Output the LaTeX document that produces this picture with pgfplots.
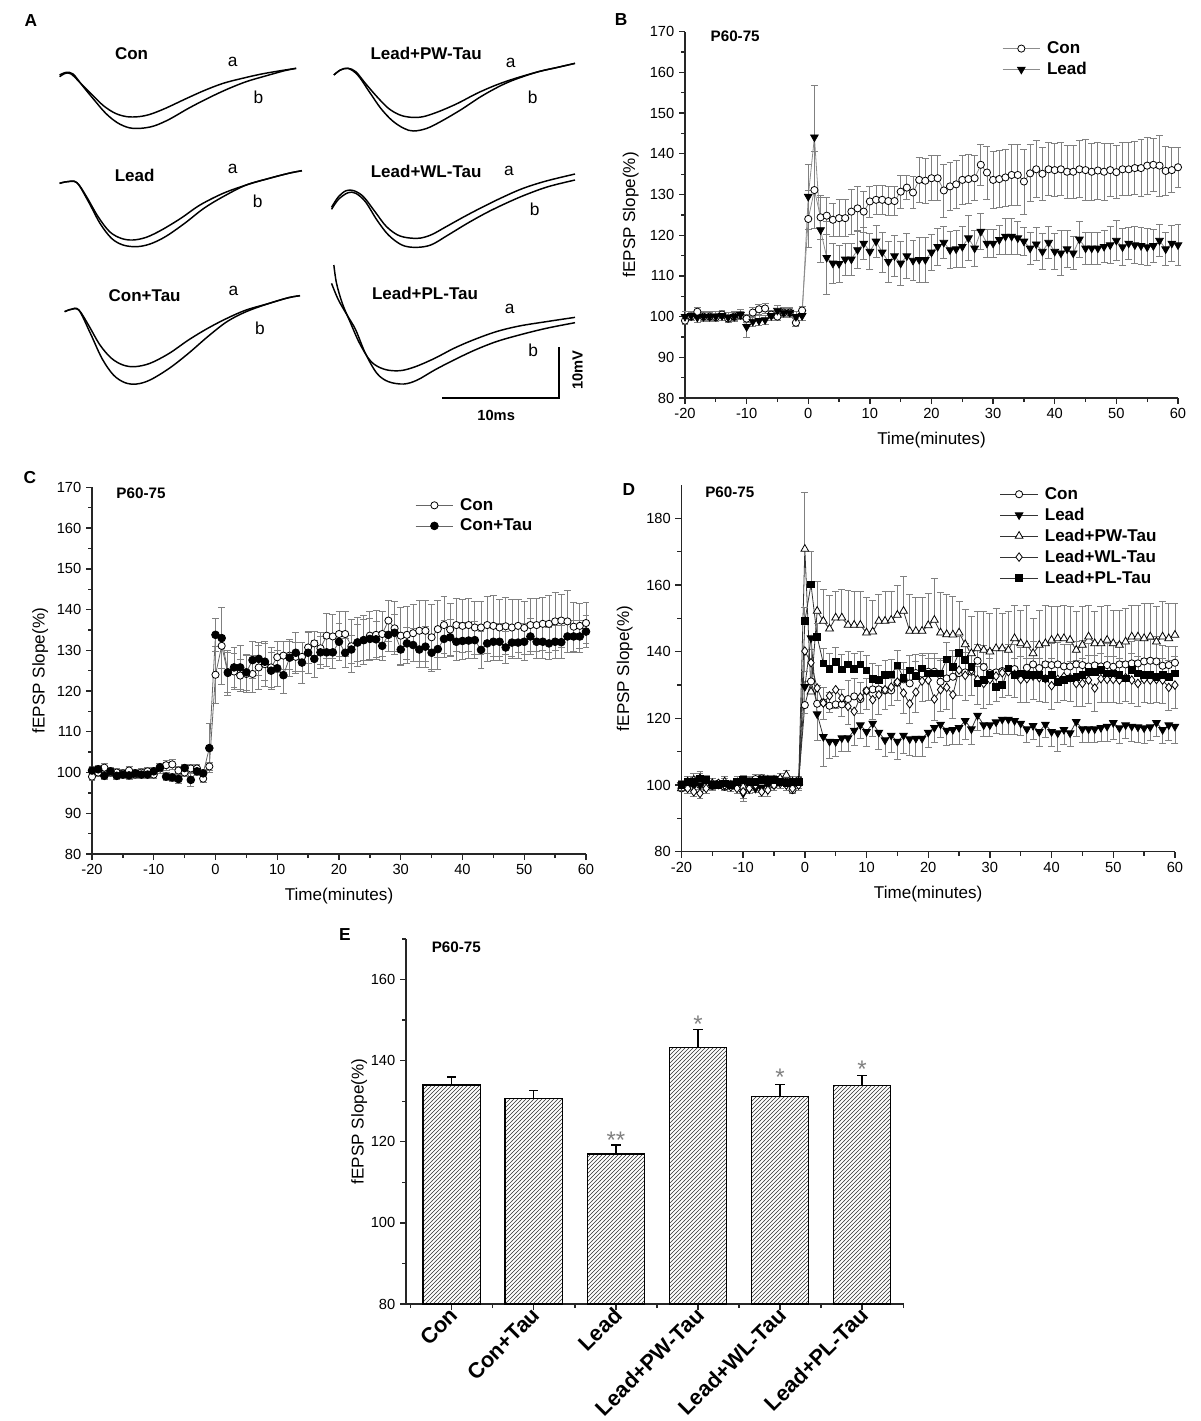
\documentclass[border=0pt]{standalone}
\usepackage{fontspec}
\setmainfont{Liberation Sans}
\usepackage{pgfplots}
\usepackage{pgfplotstable}
\pgfplotsset{compat=1.18}
\usetikzlibrary{patterns}

% time course: mean and SEM for each group
\pgfplotstableread{
t con conE lead leadE ctau ctauE pw pwE wl wlE pl plE
-20 99.0 1.0 100.0 1.2 100.5 1.0 99.0 1.5 100.0 1.5 100.0 1.5
-19 100.0 1.0 100.2 1.2 100.8 1.0 101.0 1.5 99.0 1.5 101.0 1.5
-18 101.2 1.0 99.8 1.2 99.2 1.0 101.5 2.0 98.0 1.5 101.0 1.5
-17 100.0 1.0 100.0 1.2 100.3 1.0 102.0 2.0 97.5 1.5 102.0 1.5
-16 100.0 1.0 100.0 1.2 99.2 1.0 100.0 1.5 99.0 1.5 101.5 1.5
-15 99.8 1.0 100.0 1.2 99.5 1.0 100.5 1.5 100.0 1.5 100.0 1.5
-14 100.5 1.0 100.2 1.2 99.3 1.0 100.0 1.5 100.5 1.5 100.0 1.5
-13 99.5 1.0 99.8 1.2 99.8 1.0 101.0 1.5 100.0 1.5 100.5 1.5
-12 100.0 1.0 100.0 1.2 99.5 1.0 100.0 1.5 99.5 1.5 100.0 1.5
-11 100.3 1.0 100.5 1.2 99.5 1.0 100.0 1.5 99.0 1.5 101.0 1.5
-10 99.5 1.0 97.5 2.5 100.3 1.0 99.5 1.5 98.0 2.0 101.5 1.5
-9 101.0 1.3 98.8 1.2 101.3 1.0 100.0 1.5 99.0 1.5 101.0 1.5
-8 101.8 1.3 99.0 1.2 99.0 1.0 100.5 1.5 100.0 1.5 101.0 1.5
-7 102.0 1.3 99.2 1.2 98.8 1.0 101.0 1.5 98.0 1.5 101.5 1.5
-6 100.5 1.0 100.2 1.2 98.4 1.0 101.5 1.5 98.5 2.0 101.5 1.5
-5 100.0 1.0 101.5 1.2 101.1 1.0 101.5 1.5 100.0 1.5 101.5 1.5
-4 101.0 1.0 101.0 1.2 98.2 1.5 102.0 1.5 100.5 1.5 101.0 1.5
-3 101.0 1.0 101.0 1.2 100.3 1.0 103.0 1.5 100.0 1.5 100.5 1.5
-2 98.5 1.0 100.0 1.2 99.8 1.0 101.0 1.5 99.0 1.5 101.0 1.5
-1 101.5 1.0 100.2 1.2 106.0 6.0 101.0 1.5 100.0 1.5 101.0 1.5
0 124.0 7.0 129.5 8.0 133.8 4.0 170.8 17.0 140.2 6.0 149.2 4.0
1 131.1 9.5 144.1 12.7 133.0 7.5 128.0 9.0 136.7 6.0 160.2 10.0
2 124.4 5.5 121.3 8.0 124.6 5.0 152.2 9.0 129.1 5.0 144.5 4.0
3 124.8 4.5 114.5 9.0 125.8 5.0 149.2 9.5 124.6 5.0 136.5 4.5
4 123.8 4.0 113.1 5.0 125.8 5.5 146.9 10.0 126.8 5.0 134.9 4.5
5 124.2 4.5 113.0 4.5 124.6 4.5 150.2 8.0 128.6 5.5 136.9 4.5
6 124.2 4.5 114.1 4.0 127.6 4.5 150.2 8.5 126.1 5.5 134.7 4.5
7 125.8 5.5 114.1 4.0 127.9 4.0 148.0 10.5 123.6 5.5 136.2 4.0
8 126.6 5.5 116.4 4.5 127.2 4.5 148.0 10.0 122.1 5.0 134.9 4.5
9 125.8 5.0 118.0 4.0 125.0 4.5 148.0 10.0 126.4 5.0 136.2 4.0
10 128.3 3.8 116.0 4.5 125.6 4.5 145.7 10.5 128.3 5.5 134.4 4.5
11 128.7 3.5 118.5 4.0 123.9 4.5 146.0 9.5 125.6 6.0 131.9 4.5
12 128.7 3.5 115.8 5.0 128.2 4.5 149.2 8.0 127.1 6.0 131.5 4.5
13 128.4 3.5 113.5 5.0 129.4 5.0 149.2 9.0 128.6 6.0 133.0 4.5
14 128.4 3.5 114.9 5.0 127.0 5.0 149.5 8.5 129.4 5.5 133.2 4.5
15 130.7 4.0 113.1 5.5 129.4 5.0 151.0 9.0 130.9 5.5 135.9 4.5
16 131.7 3.0 114.9 5.5 127.9 4.5 152.2 10.5 127.6 6.0 132.2 4.5
17 130.5 4.0 113.8 5.0 129.5 4.0 146.2 11.0 124.4 6.0 134.4 4.5
18 133.6 5.5 114.0 5.5 129.5 3.5 146.2 10.0 127.9 6.0 132.7 4.5
19 133.4 5.5 114.0 5.5 129.5 4.0 146.2 10.0 131.2 6.0 135.0 4.5
20 134.0 5.5 115.8 4.5 132.1 4.5 147.9 9.5 131.5 6.0 133.5 4.5
21 134.0 5.5 117.2 4.5 129.4 3.5 149.5 12.5 125.8 6.5 133.5 4.5
22 131.0 6.5 118.2 4.0 130.2 3.5 145.7 12.0 128.6 6.5 133.5 4.5
23 132.0 6.0 116.4 4.5 131.9 4.5 145.2 12.0 129.3 6.5 137.7 5.0
24 132.5 6.0 116.6 4.5 132.5 5.0 145.1 11.5 127.1 7.0 135.5 5.0
25 133.6 6.0 117.2 5.0 132.8 5.0 145.7 9.5 134.5 7.5 139.7 5.0
26 133.8 6.0 119.3 5.5 132.7 4.5 142.2 10.5 132.9 7.5 137.5 5.0
27 134.0 5.5 116.8 4.5 131.1 3.5 139.5 11.0 134.5 7.5 135.5 5.0
28 137.3 5.0 120.9 4.5 133.8 4.0 141.0 11.0 131.7 7.5 130.5 5.0
29 135.4 6.5 118.0 3.5 134.3 4.5 140.5 11.5 130.5 7.5 131.5 5.0
30 133.6 7.0 118.0 3.5 130.2 4.0 140.0 11.5 131.7 7.5 133.0 5.0
31 133.8 7.0 118.9 3.5 131.7 4.0 141.0 12.0 132.7 7.5 129.5 5.0
32 134.2 7.0 119.7 4.5 131.3 4.0 141.0 10.5 133.7 7.5 130.0 5.0
33 134.8 7.5 119.7 4.5 130.2 4.5 140.5 11.5 134.0 7.0 135.0 5.0
34 134.8 7.5 119.3 4.0 130.9 5.0 144.0 10.0 133.2 7.0 133.0 5.0
35 133.2 8.0 118.5 3.5 129.4 4.5 142.5 10.0 131.7 7.0 133.5 5.0
36 135.2 7.0 116.8 4.0 130.3 5.0 142.0 12.0 131.9 7.0 133.0 5.0
37 136.2 7.0 117.8 4.0 132.8 4.5 139.5 10.5 132.7 7.0 133.0 5.0
38 135.1 6.5 116.0 4.5 133.2 4.5 142.0 10.5 132.2 7.0 133.0 5.0
39 136.2 6.5 118.2 4.0 132.1 4.5 142.5 11.5 131.9 7.0 132.0 5.0
40 136.0 6.5 116.0 4.5 132.3 4.5 143.5 10.0 129.8 7.0 133.0 5.0
41 136.2 6.5 115.6 5.5 132.4 4.5 144.0 9.5 131.7 7.0 131.0 5.0
42 135.6 6.5 116.6 4.5 132.5 4.5 144.0 10.0 132.5 7.0 131.5 5.0
43 135.6 6.5 115.6 4.0 130.1 4.5 143.5 10.0 132.2 7.0 132.0 5.0
44 136.2 7.0 119.0 4.5 131.7 4.5 140.5 11.5 130.5 7.0 132.5 5.0
45 136.0 7.5 116.8 4.0 132.1 4.5 142.0 11.5 130.5 7.0 133.0 5.0
46 135.6 7.0 116.8 4.0 132.1 4.5 144.5 9.5 131.5 7.0 134.0 5.0
47 135.9 7.0 116.8 4.0 130.7 4.0 142.5 9.5 129.1 7.0 134.0 5.0
48 135.6 7.0 117.2 4.0 131.9 4.0 142.5 11.0 131.9 7.0 134.5 5.0
49 136.0 6.5 117.6 4.5 131.9 4.0 143.5 10.5 131.7 7.0 133.5 5.0
50 135.5 6.5 118.7 5.0 132.1 4.5 142.5 10.0 131.7 7.0 133.5 5.0
51 136.2 6.5 117.1 4.5 133.4 4.5 142.0 10.5 131.5 7.0 133.0 5.0
52 136.2 6.5 118.0 4.0 132.1 4.0 143.0 10.0 132.2 7.0 132.0 5.0
53 136.5 6.5 117.6 4.5 132.1 4.0 144.5 9.5 131.5 7.0 134.5 5.0
54 136.5 7.0 117.4 4.5 131.7 4.0 144.5 9.5 130.5 7.0 133.5 5.0
55 137.1 7.0 117.1 4.5 132.1 4.0 144.0 10.5 131.7 7.0 133.0 5.0
56 137.3 6.5 117.4 4.0 132.0 4.0 144.5 10.0 131.5 7.0 133.0 5.0
57 137.1 7.5 118.7 4.0 133.4 4.0 143.0 10.5 131.7 7.0 132.5 5.0
58 135.8 6.0 116.6 4.0 133.4 4.0 144.5 10.5 131.5 7.0 133.0 5.0
59 136.0 5.5 118.0 4.5 133.4 4.0 144.0 10.5 129.3 7.0 132.5 5.0
60 136.7 5.0 117.6 5.0 134.6 4.0 145.0 9.5 130.0 7.0 133.5 5.0
}\tc

% bar chart E
\pgfplotstableread{
x y e
0 134.0 2.0
1 130.7 1.9
2 117.0 2.2
3 143.3 4.4
4 131.1 3.1
5 133.8 2.6
}\bars

\pgfplotsset{
  panel/.style={
    scale only axis, clip=false,
    axis x line*=bottom, axis y line*=left,
    axis line style={-, line width=1.1pt, black!85},
    tick align=outside,
    major tick length=4.5pt, minor tick length=3pt,
    tick style={line width=1pt, black!85},
    tick label style={font=\fontsize{11}{12}\selectfont},
    /pgf/number format/assume math mode=true,
    label style={font=\fontsize{12.8}{15}\selectfont},
    legend style={draw=none, fill=none, inner sep=0pt, row sep=1pt, column sep=3pt,
      anchor=north west, font=\bfseries\fontsize{12.8}{15}\selectfont,
      cells={anchor=west}},
    legend cell align=left,
  },
  time/.style={panel, xmin=-20, xmax=60,
    xtick={-20,-10,...,60}, minor xtick={-15,-5,...,55},
    xlabel={Time(minutes)}, ylabel={fEPSP Slope(\%)},
    xlabel style={at={(axis description cs:0.5,-0.115)}, anchor=center},
  },
  legend image code/.code={
    \draw[mark repeat=2,mark phase=2,#1] plot coordinates {(0pt,0pt)(14pt,0pt)(28pt,0pt)};
  },
  ebar/.style={error bars/.cd, y dir=#1, y explicit,
    error bar style={gray, line width=0.6pt},
    error mark options={rotate=90, gray, mark size=2.6pt, line width=0.6pt}},
  sCon/.style={draw=#1, line width=0.6pt, mark=*, mark size=2.7pt,
    mark options={draw=black, fill=white, line width=0.6pt}},
  sLead/.style={draw=#1, line width=0.6pt, mark=triangle*, mark size=3.3pt,
    mark options={rotate=180, draw=black, fill=black, line width=0.6pt}},
  sCtau/.style={draw=#1, line width=0.6pt, mark=*, mark size=2.9pt,
    mark options={draw=black, fill=black}},
  sPW/.style={draw=#1, line width=0.6pt, mark=triangle*, mark size=3.4pt,
    mark options={draw=black, fill=white, line width=0.6pt}},
  sWL/.style={draw=#1, line width=0.6pt, mark=diamond*, mark size=3.2pt,
    mark options={draw=black, fill=white, line width=0.6pt}},
  sPL/.style={draw=#1, line width=0.6pt, mark=square*, mark size=2.5pt,
    mark options={draw=black, fill=black}},
}

\newcommand{\pfont}{\bfseries\fontsize{11.4}{13}\selectfont}
\newcommand{\tfont}{\bfseries\fontsize{12.75}{15}\selectfont}
\newcommand{\afont}{\fontsize{13}{15}\selectfont}
\newcommand{\lfont}{\bfseries\fontsize{13}{15}\selectfont}
\newcommand{\sfont}{\fontsize{18}{20}\selectfont}

\begin{document}
\begin{tikzpicture}
\useasboundingbox (0,0) rectangle (900pt,-1065.75pt);

% ---------- A: traces (coordinates in a 1560 x 1260 grid over the panel) ----------
\begin{axis}[at={(0pt,0pt)}, anchor=north west, scale only axis,
  width=450pt, height=315pt, xmin=0, xmax=1560, ymin=0, ymax=1260,
  y dir=reverse, hide axis, clip=false]
% Con
\addplot[black, line width=1.1pt, smooth, tension=0.55] coordinates {(155,230)(170,220)(185,222)(210,250)(240,285)(270,318)(300,340)(330,350)(360,350)(390,343)(430,325)(480,298)(530,272)(580,250)(630,235)(680,222)(730,212)(770,205)};
\addplot[black, line width=1.1pt, smooth, tension=0.55] coordinates {(155,225)(172,217)(190,222)(215,258)(245,300)(275,340)(305,368)(335,383)(365,385)(400,378)(440,358)(490,325)(540,295)(590,268)(640,245)(690,228)(740,212)(770,205)};
% Lead+PW-Tau
\addplot[black, line width=1.1pt, smooth, tension=0.55] coordinates {(868,225)(885,210)(905,205)(925,215)(950,250)(980,290)(1010,325)(1040,345)(1070,352)(1100,350)(1140,335)(1190,310)(1240,280)(1290,255)(1340,235)(1400,215)(1450,202)(1495,190)};
\addplot[black, line width=1.1pt, smooth, tension=0.55] coordinates {(868,225)(885,210)(905,205)(930,225)(960,275)(990,325)(1020,362)(1050,385)(1075,393)(1110,385)(1150,362)(1200,328)(1250,290)(1300,258)(1340,238)(1400,215)(1450,202)(1495,190)};
% Lead
\addplot[black, line width=1.1pt, smooth, tension=0.55] coordinates {(155,550)(175,545)(200,548)(225,590)(255,650)(285,695)(315,715)(345,720)(380,712)(420,690)(470,655)(520,615)(580,580)(640,555)(700,535)(750,520)(785,512)};
\addplot[black, line width=1.1pt, smooth, tension=0.55] coordinates {(155,550)(175,545)(200,548)(230,605)(260,670)(290,715)(320,735)(355,740)(390,732)(430,710)(480,670)(530,625)(580,590)(640,555)(700,535)(750,520)(785,512)};
% Lead+WL-Tau
\addplot[black, line width=1.1pt, smooth, tension=0.55] coordinates {(862,622)(880,590)(900,572)(920,572)(945,590)(975,635)(1005,680)(1040,708)(1085,715)(1120,705)(1160,680)(1210,648)(1260,618)(1310,590)(1360,565)(1420,543)(1495,522)};
\addplot[black, line width=1.1pt, smooth, tension=0.55] coordinates {(862,628)(880,598)(905,578)(925,580)(950,605)(980,660)(1010,705)(1045,735)(1080,742)(1120,735)(1165,705)(1215,670)(1265,638)(1315,610)(1365,585)(1425,560)(1495,540)};
% Con+Tau
\addplot[black, line width=1.1pt, smooth, tension=0.55] coordinates {(168,935)(185,928)(205,930)(230,975)(260,1035)(290,1075)(320,1095)(350,1100)(390,1090)(440,1060)(490,1020)(540,985)(590,955)(640,930)(700,910)(750,893)(780,887)};
\addplot[black, line width=1.1pt, smooth, tension=0.55] coordinates {(168,935)(185,928)(205,930)(235,1000)(265,1075)(295,1125)(325,1148)(355,1152)(390,1140)(440,1105)(490,1060)(540,1010)(590,965)(640,935)(700,910)(750,893)(780,887)};
% Lead+PL-Tau
\addplot[black, line width=1.1pt, smooth, tension=0.55] coordinates {(868,795)(875,850)(890,910)(910,965)(935,1030)(965,1085)(1000,1108)(1040,1112)(1080,1100)(1130,1075)(1180,1045)(1230,1020)(1290,995)(1350,978)(1420,965)(1495,952)};
\addplot[black, line width=1.1pt, smooth, tension=0.55] coordinates {(862,850)(880,900)(905,950)(925,990)(950,1060)(980,1120)(1010,1145)(1050,1152)(1085,1140)(1130,1110)(1180,1080)(1235,1050)(1290,1025)(1350,1005)(1420,985)(1495,968)};
% scale bar
\addplot[black, line width=1.5pt, sharp plot] coordinates {(1150,1195)(1453,1195)(1453,1040)};

\node[font=\tfont] at (axis cs:342,160) {Con};
\node[font=\tfont] at (axis cs:1108,160) {Lead+PW-Tau};
\node[font=\tfont] at (axis cs:350,525) {Lead};
\node[font=\tfont] at (axis cs:1108,515) {Lead+WL-Tau};
\node[font=\tfont] at (axis cs:376,887) {Con+Tau};
\node[font=\tfont] at (axis cs:1105,880) {Lead+PL-Tau};
\node[font=\afont] at (axis cs:605,185) {a};
\node[font=\afont] at (axis cs:672,292) {b};
\node[font=\afont] at (axis cs:1328,188) {a};
\node[font=\afont] at (axis cs:1385,292) {b};
\node[font=\afont] at (axis cs:605,508) {a};
\node[font=\afont] at (axis cs:670,605) {b};
\node[font=\afont] at (axis cs:1323,512) {a};
\node[font=\afont] at (axis cs:1390,627) {b};
\node[font=\afont] at (axis cs:607,873) {a};
\node[font=\afont] at (axis cs:676,985) {b};
\node[font=\afont] at (axis cs:1325,928) {a};
\node[font=\afont] at (axis cs:1386,1050) {b};
\node[font=\bfseries\fontsize{11}{13}\selectfont, rotate=90] at (axis cs:1502,1110) {10mV};
\node[font=\bfseries\fontsize{11}{13}\selectfont] at (axis cs:1290,1245) {10ms};

% panel letters
\node[font=\lfont] at (axis cs:80,62) {A};
\node[font=\lfont] at (axis cs:1615,60) {B};
\node[font=\lfont] at (axis cs:78,1434) {C};
\node[font=\lfont] at (axis cs:1635,1470) {D};
\node[font=\lfont] at (axis cs:897,2805) {E};
\end{axis}

% ---------- B ----------
\begin{axis}[time, at={(513.75pt,-298.5pt)}, anchor=south west,
  width=369.75pt, height=274.7pt, ymin=80, ymax=170,
  ytick={80,90,...,170}, minor ytick={85,95,...,165},
  ylabel style={at={(axis description cs:-0.11,0.5)}, anchor=center},
  legend style={at={(axis description cs:0.643,0.981)}}]
\addplot[sCon=black!45, ebar=both] table[x=t, y=con, y error=conE] {\tc};
\addlegendentry{Con}
\addplot[sLead=black!45, ebar=both] table[x=t, y=lead, y error=leadE] {\tc};
\addlegendentry{Lead}
\node[anchor=west, font=\pfont] at (axis cs:-16.6,168.9) {P60-75};
\end{axis}

% ---------- C ----------
\begin{axis}[time, at={(69pt,-640.5pt)}, anchor=south west,
  width=370.5pt, height=275pt, ymin=80, ymax=170,
  ytick={80,90,...,170}, minor ytick={85,95,...,165},
  ylabel style={at={(axis description cs:-0.105,0.5)}, anchor=center},
  legend style={at={(axis description cs:0.654,0.978)}}]
\addplot[sCon=black!60, ebar=both] table[x=t, y=con, y error=conE] {\tc};
\addlegendentry{Con}
\addplot[sCtau=black!60, ebar=both] table[x=t, y=ctau, y error=ctauE] {\tc};
\addlegendentry{Con+Tau}
\node[anchor=west, font=\pfont] at (axis cs:-16.8,168.6) {P60-75};
\end{axis}

% ---------- D ----------
\begin{axis}[time, at={(511.1pt,-638.8pt)}, anchor=south west,
  width=370.1pt, height=275pt, ymin=80, ymax=190,
  ytick={80,100,...,180}, minor ytick={90,110,...,170},
  ylabel style={at={(axis description cs:-0.115,0.5)}, anchor=center},
  legend style={at={(axis description cs:0.645,1.002)}}]
\addplot[sCon=black!80, ebar=plus] table[x=t, y=con, y error=conE] {\tc};
\addlegendentry{Con}
\addplot[sLead=black!80, ebar=minus] table[x=t, y=lead, y error=leadE] {\tc};
\addlegendentry{Lead}
\addplot[sPW=black!80, ebar=plus] table[x=t, y=pw, y error=pwE] {\tc};
\addlegendentry{Lead+PW-Tau}
\addplot[sWL=black!80, ebar=minus] table[x=t, y=wl, y error=wlE] {\tc};
\addlegendentry{Lead+WL-Tau}
\addplot[sPL=black!80, ebar=plus] table[x=t, y=pl, y error=plE] {\tc};
\addlegendentry{Lead+PL-Tau}
\node[anchor=west, font=\pfont] at (axis cs:-16.9,187.7) {P60-75};
\end{axis}

% ---------- E ----------
\begin{axis}[panel, clip=true, at={(304.5pt,-978pt)}, anchor=south west,
  width=373.5pt, height=273.75pt,
  xmin=-0.557, xmax=5.51, ymin=80, ymax=170,
  ytick={80,100,...,160}, minor ytick={90,110,...,170},
  xtick={0,...,5}, minor xtick={-0.5,0.5,...,5.5},
  xticklabels={Con,Con+Tau,Lead,Lead+PW-Tau,Lead+WL-Tau,Lead+PL-Tau},
  xticklabel style={font=\bfseries\fontsize{16.3}{18}\selectfont, anchor=east,
    xshift=4pt, yshift=1.5pt, rotate=45},
  ylabel={fEPSP Slope(\%)},
  ylabel style={at={(axis description cs:-0.094,0.5)}, anchor=center}]
\addplot[ybar, bar width=0.70, draw=black, line width=0.9pt,
  pattern=north east lines, pattern color=black!80,
  error bars/.cd, y dir=plus, y explicit,
  error bar style={black, line width=1pt},
  error mark options={rotate=90, black, mark size=3.5pt, line width=1pt}]
  table[x=x, y=y, y error=e] {\bars};
\node[anchor=west, font=\pfont] at (axis cs:-0.30,168) {P60-75};
\node[anchor=base, text=gray, font=\sfont] at (axis cs:2,118.3) {**};
\node[anchor=base, text=gray, font=\sfont] at (axis cs:3,147.0) {*};
\node[anchor=base, text=gray, font=\sfont] at (axis cs:4,133.9) {*};
\node[anchor=base, text=gray, font=\sfont] at (axis cs:5,135.8) {*};
\end{axis}
\end{tikzpicture}
\end{document}
